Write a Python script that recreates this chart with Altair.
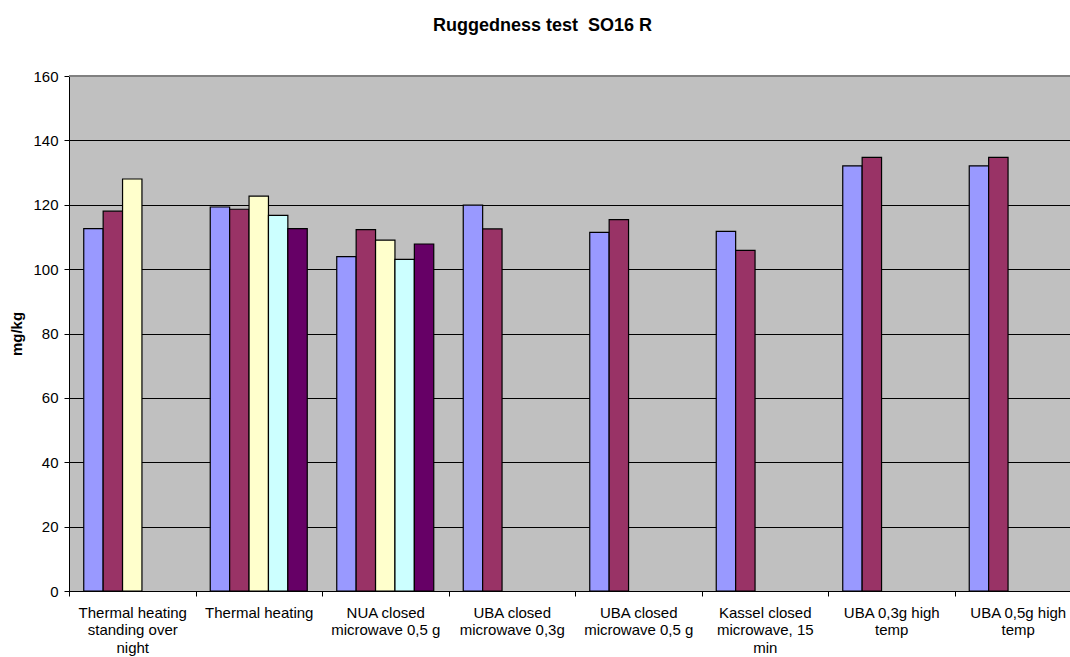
import json
import altair as alt
import pandas as pd

# Sample preparation variants (x categories) and how their labels wrap
categories = [
    "Thermal heating standing over night",
    "Thermal heating",
    "NUA closed microwave 0,5 g",
    "UBA closed microwave 0,3g",
    "UBA closed microwave 0,5 g",
    "Kassel closed microwave, 15 min",
    "UBA 0,3g high temp",
    "UBA 0,5g high temp",
]
label_lines = [
    ["Thermal heating", "standing over", "night"],
    ["Thermal heating"],
    ["NUA closed", "microwave 0,5 g"],
    ["UBA closed", "microwave 0,3g"],
    ["UBA closed", "microwave 0,5 g"],
    ["Kassel closed", "microwave, 15", "min"],
    ["UBA 0,3g high", "temp"],
    ["UBA 0,5g high", "temp"],
]

# Replicate results in mg/kg (None = no replicate)
series_names = ["Rep 1", "Rep 2", "Rep 3", "Rep 4", "Rep 5"]
rep1 = [112.6, 119.3, 103.9, 119.9, 111.4, 111.7, 132.1, 132.1]
rep2 = [118.0, 118.6, 112.3, 112.5, 115.4, 105.8, 134.7, 134.7]
rep3 = [128.0, 122.7, 109.0, None, None, None, None, None]
rep4 = [None, 116.7, 103.0, None, None, None, None, None]
rep5 = [None, 112.6, 107.8, None, None, None, None, None]
series_colors = ["#9999FF", "#993366", "#FFFFCC", "#CCFFFF", "#660066"]

rows = []
for name, vals in zip(series_names, [rep1, rep2, rep3, rep4, rep5]):
    for cat, v in zip(categories, vals):
        if v is not None:
            rows.append({"category": cat, "series": name, "value": v})
df = pd.DataFrame(rows)

label_map = json.dumps(dict(zip(categories, label_lines)))

FONT = "Liberation Sans"

bars = alt.Chart(df).mark_bar(stroke="black", strokeWidth=1.2).encode(
    x=alt.X(
        "category:N",
        sort=categories,
        scale=alt.Scale(range=[0, 1012], paddingInner=0, paddingOuter=0),
        axis=alt.Axis(
            title=None,
            labelAngle=0,
            labelExpr=f"{label_map}[datum.label]",
            labelFont=FONT,
            labelFontSize=15,
            labelColor="black",
            labelLineHeight=17.5,
            labelPadding=9,
            labelBaseline="top",
            tickBand="extent",
            tickSize=5,
            tickColor="black",
            domainColor="black",
            grid=False,
            labelOverlap=False,
        ),
    ),
    xOffset=alt.XOffset(
        "series:N",
        sort=series_names,
        scale=alt.Scale(domain=series_names, paddingInner=0, paddingOuter=0.76),
    ),
    y=alt.Y(
        "value:Q",
        scale=alt.Scale(domain=[0, 160], nice=False),
        axis=alt.Axis(
            title="mg/kg",
            titleFont=FONT,
            titleFontSize=15,
            titleFontWeight="bold",
            titleColor="black",
            titlePadding=8,
            values=[0, 20, 40, 60, 80, 100, 120, 140, 160],
            labelFont=FONT,
            labelFontSize=15,
            labelColor="black",
            labelPadding=6,
            tickSize=5,
            tickColor="black",
            domainColor="black",
            gridColor="black",
            gridWidth=1,
        ),
    ),
    color=alt.Color(
        "series:N",
        scale=alt.Scale(domain=series_names, range=series_colors),
        legend=None,
    ),
)

top_border = alt.Chart(df).mark_rule(color="#808080", strokeWidth=2).encode(
    y=alt.datum(160)
)

chart = (
    alt.layer(bars, top_border)
    .properties(
        width=1001,
        height=515,
        autosize=alt.AutoSizeParams(type="none"),
        padding={"left": 69, "top": 76, "right": 0, "bottom": 66},
        title=alt.TitleParams(
            "Ruggedness test\u00a0 SO16 R",
            font=FONT,
            fontSize=18,
            fontWeight="bold",
            color="black",
            anchor="middle",
            dx=-27,
            offset=20,
            baseline="alphabetic",
        ),
    )
    .configure(background="white")
    .configure_view(fill="#C0C0C0", stroke=None)
)

chart.save("out.html", embed_options={"renderer": "svg", "actions": False})
